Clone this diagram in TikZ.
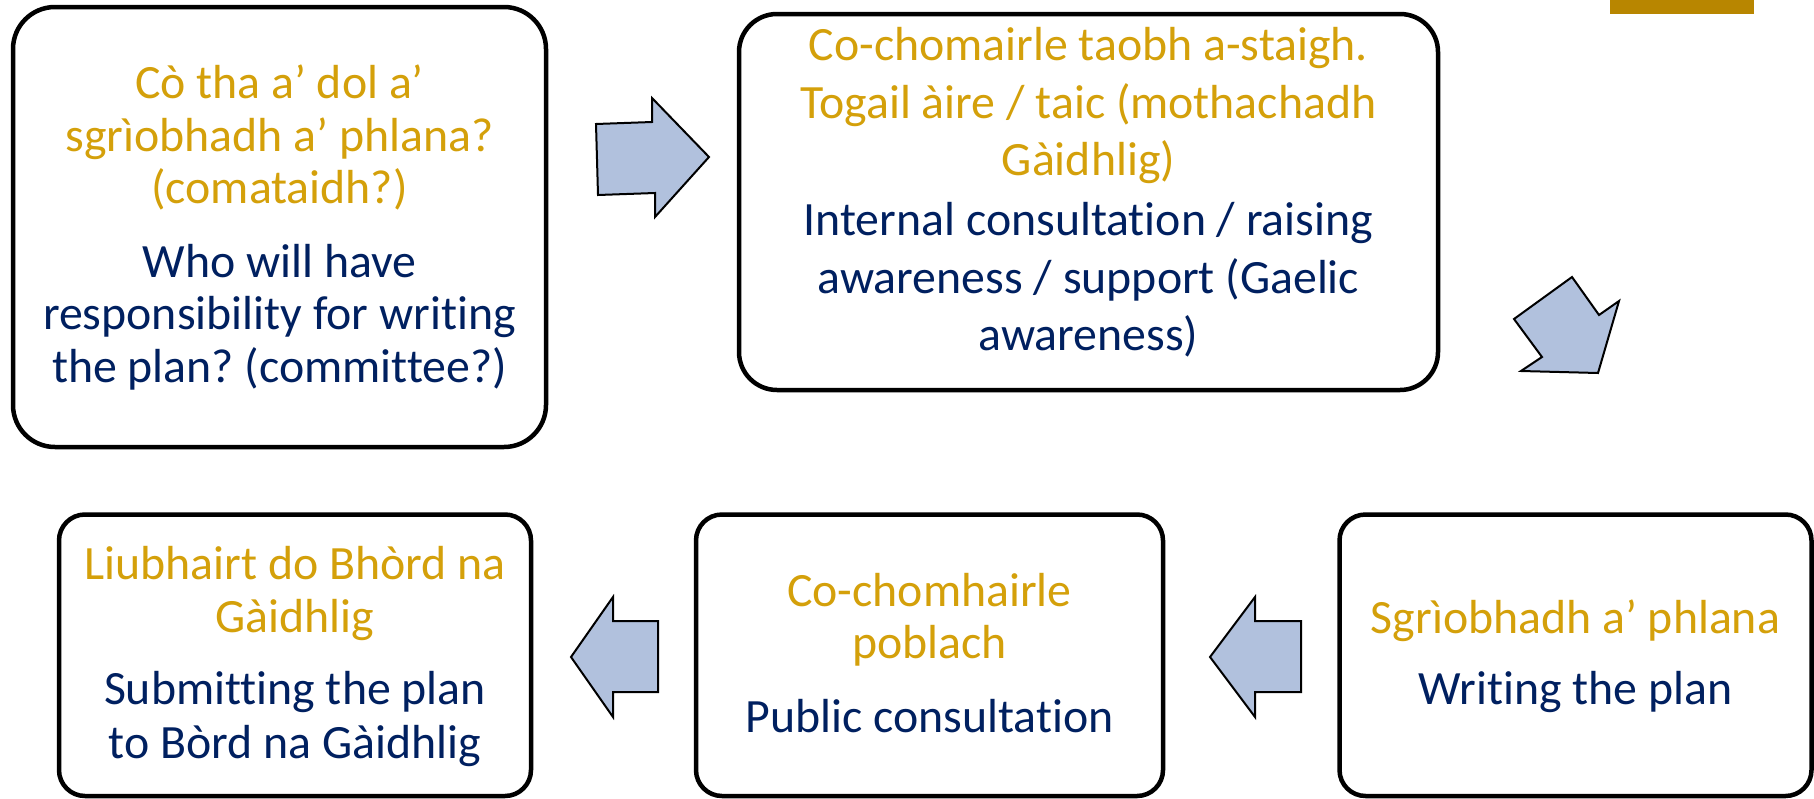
\documentclass[tikz,border=0pt]{standalone}
\usepackage{fontspec}
\setmainfont{Carlito}[Ligatures=NoCommon]
\frenchspacing
\definecolor{goldtxt}{RGB}{212,160,10}
\definecolor{bluetxt}{RGB}{0,32,96}
\definecolor{barcol}{RGB}{184,134,0}
\definecolor{arrowfill}{RGB}{177,193,221}
\begin{document}
\begin{tikzpicture}[x=1pt,y=-1pt,
  stepbox/.style={draw=black,line width=4.5pt,fill=white,inner sep=0pt},
  gl/.style={anchor=base,inner sep=0pt,text=goldtxt,font=\fontsize{47.8}{52}\selectfont\frenchspacing},
  bl/.style={gl,text=bluetxt},
  blockarrow/.style={draw=black,line width=2pt,fill=arrowfill,line join=miter}]
\useasboundingbox (0,0) rectangle (1814,798);
% gold bar
\fill[barcol] (1610,0) rectangle (1754,14);
% boxes
\node[stepbox,rounded corners=42pt,minimum width=533pt,minimum height=440pt] (box1) at (279.5,227) {};
\node[stepbox,rounded corners=38pt,minimum width=699pt,minimum height=376pt] (box2) at (1088.5,202) {};
\node[stepbox,rounded corners=26pt,minimum width=472pt,minimum height=281.5pt] (box3) at (295,655.25) {};
\node[stepbox,rounded corners=26pt,minimum width=467pt,minimum height=281.5pt] (box4) at (929.5,655.25) {};
\node[stepbox,rounded corners=26pt,minimum width=472pt,minimum height=281.5pt] (box5) at (1575.5,655.25) {};
% block arrows
\draw[blockarrow] (596,124) -- (652,122) -- (652,98) -- (709,157) -- (655,217) -- (655,193) -- (598,195) -- cycle;
\draw[blockarrow] (1572,277) -- (1599,315) -- (1619,301) -- (1598,373) -- (1521,371) -- (1542,357) -- (1514,319) -- cycle;
\draw[blockarrow] (1210,657) -- (1255,597) -- (1255,621) -- (1301,621) -- (1301,692) -- (1255,692) -- (1255,717) -- cycle;
\draw[blockarrow] (571,657) -- (613,597) -- (613,621) -- (658,621) -- (658,692) -- (613,692) -- (613,717) -- cycle;
% box 1 text
\node[gl] (t1a) at (279.5,98) {Cò tha a’ dol a’};
\node[gl] (t1b) at (279.5,151) {sgrìobhadh a’ phlana?};
\node[gl] (t1c) at (279.5,203) {(comataidh?)};
\node[bl] (t1d) at (279.5,277) {Who will have};
\node[bl] (t1e) at (279.5,329) {responsibility for writing};
\node[bl] (t1f) at (279.5,382) {the plan? (committee?)};
% box 2 text
\node[gl] (t2a) at (1088.5,60) {Co-chomairle taobh a-staigh.};
\node[gl] (t2b) at (1088.5,118) {Togail àire / taic (mothachadh};
\node[gl] (t2c) at (1088.5,175) {Gàidhlig)};
\node[bl] (t2d) at (1088.5,235) {Internal consultation / raising};
\node[bl] (t2e) at (1088.5,293) {awareness / support (Gaelic};
\node[bl] (t2f) at (1088.5,350) {awareness)};
% box 3 text
\node[gl] (t3a) at (295,579) {Liubhairt do Bhòrd na};
\node[gl] (t3b) at (295,632) {Gàidhlig};
\node[bl] (t3c) at (295,704) {Submitting the plan};
\node[bl] (t3d) at (295,758) {to Bòrd na Gàidhlig};
% box 4 text
\node[gl] (t4a) at (929.5,606) {Co-chomhairle};
\node[gl] (t4b) at (929.5,658) {poblach};
\node[bl] (t4c) at (929.5,732) {Public consultation};
% box 5 text
\node[gl] (t5a) at (1575.5,633) {Sgrìobhadh a’ phlana};
\node[bl] (t5b) at (1575.5,704) {Writing the plan};
\end{tikzpicture}
\end{document}
